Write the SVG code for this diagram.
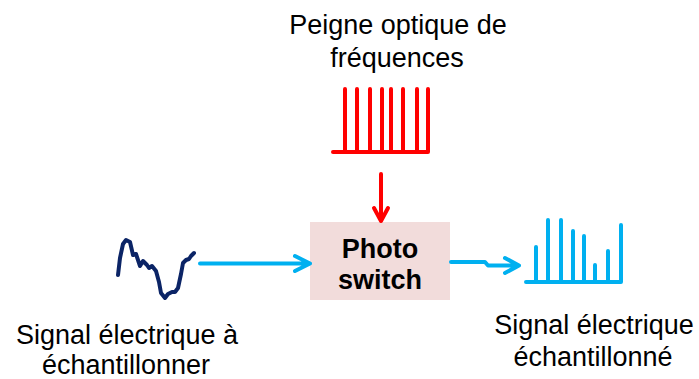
<svg xmlns="http://www.w3.org/2000/svg" width="699" height="379" viewBox="0 0 699 379">
<style>
.lbl{font-family:"Liberation Sans",Arial,sans-serif;font-size:27px;fill:#000;text-anchor:middle}
.bold{font-family:"Liberation Sans",Arial,sans-serif;font-size:27px;font-weight:bold;fill:#000;text-anchor:middle}
.red{fill:none;stroke:#FF0000;stroke-width:4;stroke-linecap:round;stroke-linejoin:round}
.blue{fill:none;stroke:#00B0F0;stroke-width:4;stroke-linecap:round;stroke-linejoin:round}
.navy{fill:none;stroke:#0B2466;stroke-width:4;stroke-linecap:round;stroke-linejoin:round}
</style>
<rect width="699" height="379" fill="#FFFFFF"/>
<g id="comb">
<path class="red" d="M333,152 H428 V89 M345,152 V89 M357,152 V89 M370,152 V89 M382,152 V89 M391,152 V89 M403,152 V89 M417,152 V89"/>
<text class="lbl" x="398" y="34">Peigne optique de</text>
<text class="lbl" x="397" y="67">fréquences</text>
</g>
<g id="photoswitch">
<rect x="310" y="222" width="140" height="78" fill="#F2DCDB"/>
<text class="bold" x="380" y="258">Photo</text>
<text class="bold" x="380" y="289">switch</text>
</g>
<g id="input">
<path class="navy" d="M118,275 L120,258 L123,244 L126,240 L130,242 L133,255 L136,254 L140,266 L143,261 L147,265 L149,268 L152,266 L156,271 L159,282 L161,293 L165,298 L168,294 L172,292 L175,292 L178,288 L181,274 L183,263 L186,260 L189,259 L191,256 L194,253"/>
<text class="lbl" x="127" y="344">Signal électrique à</text>
<text class="lbl" x="126" y="374">échantillonner</text>
</g>
<g id="output">
<path class="blue" d="M526,282 H621 V225 M536,282 V247 M548,282 V220 M561,282 V220 M573,282 V231 M584,282 V236 M595,282 V265 M608,282 V251"/>
<text class="lbl" x="594" y="334">Signal électrique</text>
<text class="lbl" x="593" y="366">échantillonné</text>
</g>
<g id="connectors">
<path class="red" stroke-width="3" d="M381,174 V221 M374,208 L381,221 L388,208"/>
<path class="blue" d="M200,263.5 H310 M295,256 L310,263.5 L295,271"/>
<path class="blue" d="M451,262 H485 L488,265.5 H519 M505,258 L519,265.5 L505,273"/>
</g>
</svg>
